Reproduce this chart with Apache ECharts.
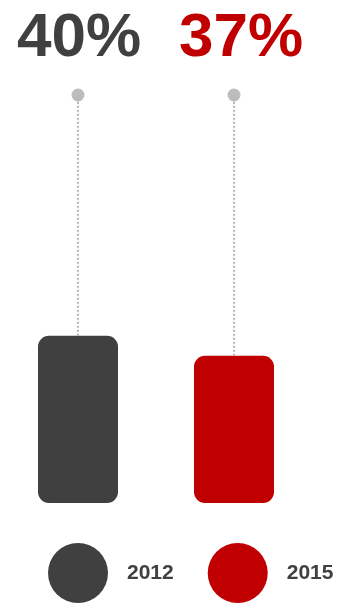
<!DOCTYPE html>
<html><head><meta charset="utf-8">
<script src="https://cdn.jsdelivr.net/npm/echarts@6/dist/echarts.min.js"></script>
<style>html,body{margin:0;padding:0;background:#fff}#c{width:346px;height:606px}</style>
</head><body><div id="c"></div>
<script>
const categories = ['2012', '2015'];
const seriesNames = ['2012', '2015'];
const values = [40, 37];
const colors = ['#404040', '#c00000'];
const axisMin = 15, axisMax = 76;

const chart = echarts.init(document.getElementById('c'), null, {renderer: 'canvas'});
const barSeries = seriesNames.map((name, i) => ({
  name: name,
  type: 'bar',
  barWidth: 80,
  barGap: '-100%',
  data: values.map((v, j) => j === i ? v : '-'),
  itemStyle: {color: colors[i], borderRadius: 11},
  markLine: {
    silent: true,
    symbol: 'none',
    label: {show: false},
    lineStyle: {color: '#b4b4b4', type: [2, 2], width: 2},
    data: [[{coord: [i, values[i]]}, {coord: [i, axisMax]}]]
  },
  z: 2
}));
const option = {
  animation: false,
  grid: {left: -8, width: 320, top: 95, bottom: 103},
  xAxis: {type: 'category', data: categories, show: false},
  yAxis: {type: 'value', min: axisMin, max: axisMax, show: false, splitLine: {show: false}},
  legend: {
    left: 43, top: 538,
    icon: 'circle', itemWidth: 60, itemHeight: 60, itemGap: 34,
    data: seriesNames,
    textStyle: {fontFamily: 'Liberation Sans', fontWeight: 'bold', fontSize: 21, color: '#404040', padding: [0, 0, 0, 14]}
  },
  series: barSeries.concat([{
    type: 'scatter',
    clip: false,
    symbolSize: 13,
    itemStyle: {color: '#bdbdbd', opacity: 1},
    z: 3,
    data: values.map((v, i) => ({
      value: [i, axisMax],
      label: {
        show: true, position: 'top', distance: 19,
        offset: [i === 0 ? 1 : 7, 0],
        formatter: v + '%',
        fontFamily: 'Liberation Sans', fontWeight: 'bold', fontSize: 62,
        color: colors[i]
      }
    }))
  }])
};
chart.setOption(option);
</script></body></html>
